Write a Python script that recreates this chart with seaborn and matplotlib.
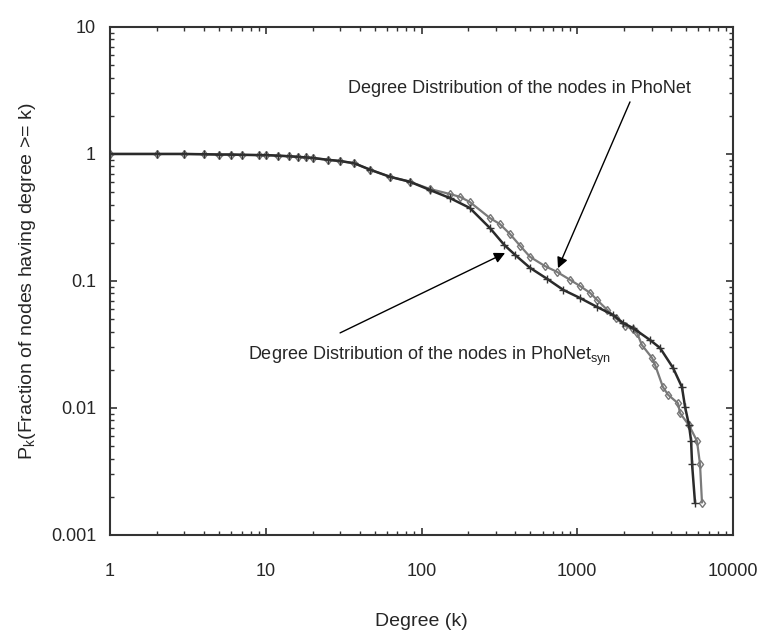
import matplotlib
matplotlib.use("Agg")
import matplotlib.pyplot as plt
import seaborn as sns
import pandas as pd
from matplotlib.ticker import FixedLocator, FixedFormatter, LogLocator, NullFormatter

# values (log-log degree CCDF)
phonet_deg = [1, 2, 3, 4, 5, 6, 7, 9, 10, 12, 14, 16, 18, 20, 25, 30, 37, 47, 63, 84,
              113, 152, 177, 204, 275, 318, 370, 430, 497, 620,
              740, 900, 1040, 1210, 1340, 1560, 1760, 2030, 2280, 2420,
              2600, 3020, 3160, 3550, 3830, 4430, 4570, 5220, 5870, 6140, 6320]
phonet_pk = [1, 1, 1, 0.995, 0.99, 0.99, 0.985, 0.98, 0.98, 0.97, 0.96, 0.95, 0.94, 0.93,
             0.90, 0.88, 0.845, 0.75, 0.66, 0.605,
             0.53, 0.484, 0.459, 0.419, 0.313, 0.281, 0.234, 0.189, 0.155, 0.131,
             0.118, 0.102, 0.0914, 0.0805, 0.0709, 0.0591, 0.0511, 0.0442, 0.0419, 0.039,
             0.0313, 0.0248, 0.0218, 0.0146, 0.0127, 0.0109, 0.0091, 0.0073, 0.0055, 0.0036, 0.0018]

syn_deg = [1, 2, 3, 4, 5, 6, 7, 9, 10, 12, 14, 16, 18, 20, 25, 30, 37, 47, 63, 84,
           113, 152, 204, 275, 340, 400, 497, 640, 815, 1040,
           1340, 1700, 1970, 2280, 2930, 3400, 4120, 4700, 4920, 5220, 5380, 5460, 5700]
syn_pk = [1, 1, 1, 0.995, 0.99, 0.99, 0.985, 0.98, 0.98, 0.97, 0.96, 0.95, 0.94, 0.93,
          0.90, 0.88, 0.845, 0.75, 0.66, 0.605,
          0.521, 0.45, 0.376, 0.261, 0.192, 0.16, 0.127, 0.104, 0.0849, 0.0735,
          0.0624, 0.054, 0.0467, 0.0426, 0.0343, 0.0297, 0.0207, 0.0146, 0.0102, 0.0073,
          0.0055, 0.0036, 0.0018]

x_ticks = [1, 10, 100, 1000, 10000]
x_labels = ["1", "10", "100", "1000", "10000"]
y_ticks = [0.001, 0.01, 0.1, 1, 10]
y_labels = ["0.001", "0.01", "0.1", "1", "10"]

df_phonet = pd.DataFrame({"deg": phonet_deg, "pk": phonet_pk})
df_syn = pd.DataFrame({"deg": syn_deg, "pk": syn_pk})

sns.set_style("ticks")
plt.rcParams["font.family"] = ["Liberation Sans", "DejaVu Sans"]

fig = plt.figure(figsize=(7.65, 6.42), dpi=100)
ax = fig.add_axes([0.1438, 0.1667, 0.8144, 0.7913])

sns.lineplot(data=df_phonet, x="deg", y="pk", ax=ax, sort=False, estimator=None,
             color="#7a7a7a", lw=1.6, marker="d", markersize=4.5,
             markerfacecolor="none", markeredgecolor="#777777", markeredgewidth=1)
sns.lineplot(data=df_syn, x="deg", y="pk", ax=ax, sort=False, estimator=None,
             color="#2a2a2a", lw=1.8, marker="+", markersize=6,
             markeredgecolor="#333333", markeredgewidth=1)

ax.set_xscale("log")
ax.set_yscale("log")
ax.set_xlim(1, 10000)
ax.set_ylim(0.001, 10)

ax.xaxis.set_major_locator(FixedLocator(x_ticks))
ax.xaxis.set_major_formatter(FixedFormatter(x_labels))
ax.yaxis.set_major_locator(FixedLocator(y_ticks))
ax.yaxis.set_major_formatter(FixedFormatter(y_labels))
ax.xaxis.set_minor_locator(LogLocator(base=10, subs=range(2, 10)))
ax.yaxis.set_minor_locator(LogLocator(base=10, subs=range(2, 10)))
ax.xaxis.set_minor_formatter(NullFormatter())
ax.yaxis.set_minor_formatter(NullFormatter())

ax.tick_params(which="both", direction="in", top=True, right=True, color="#333333")
ax.tick_params(which="major", length=5, width=1.2, labelsize=13)
ax.tick_params(which="minor", length=3, width=1)
ax.tick_params(axis="x", which="major", pad=20)
ax.tick_params(axis="y", which="major", pad=10)

for s in ax.spines.values():
    s.set_color("#333333")
    s.set_linewidth(1.5)

ax.set_xlabel("Degree (k)", fontsize=14, labelpad=24)
ax.set_ylabel(r"P$_\mathregular{k}$(Fraction of nodes having degree >= k)", fontsize=14, labelpad=9)

arrow = dict(arrowstyle="-|>", color="black", lw=1, mutation_scale=16, shrinkA=0, shrinkB=0)
ax.annotate("", xy=(752, 0.126), xytext=(2180, 2.57), arrowprops=arrow)
ax.annotate("", xy=(344, 0.166), xytext=(30, 0.039), arrowprops=arrow)
ax.text(423, 3.3, "Degree Distribution of the nodes in PhoNet", fontsize=13,
        ha="center", va="center")
ax.text(113, 0.0257, r"Degree Distribution of the nodes in PhoNet$_\mathregular{syn}$",
        fontsize=13, ha="center", va="center")

fig.savefig("out.png", dpi=100, facecolor="white")
